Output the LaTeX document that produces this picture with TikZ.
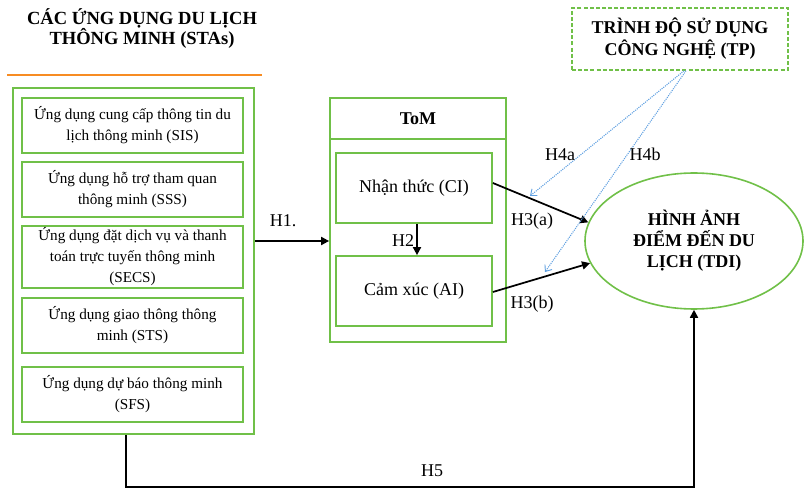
\documentclass[tikz,border=0pt]{standalone}
\usepackage{fontspec}
\setmainfont{Liberation Serif}
\usetikzlibrary{arrows.meta,shapes.geometric}
\definecolor{boxgreen}{RGB}{112,192,72}
\definecolor{lineorange}{RGB}{247,140,35}
\definecolor{linkblue}{RGB}{95,160,225}

\begin{document}
\begin{tikzpicture}[x=0.75pt,y=-0.75pt,
  appbox/.style={draw=boxgreen,line width=1.3pt,minimum width=165.75pt,
    minimum height=41.25pt,inner sep=0pt,align=center,
    font=\fontsize{11.4}{15.75}\selectfont},
  framebox/.style={draw=boxgreen,line width=1.5pt,inner sep=0pt},
  constructbox/.style={draw=boxgreen,line width=1.3pt,minimum width=117pt,
    minimum height=52.5pt,inner sep=0pt,font=\fontsize{13.5}{16}\selectfont},
  heading/.style={align=center,inner sep=0pt,font=\bfseries\fontsize{13.9}{15}\selectfont},
  lbl/.style={inner sep=0pt,anchor=base,font=\fontsize{13.5}{16}\selectfont},
  arr/.style={line width=1.3pt,-{Triangle[length=6pt,width=6pt]}},
  modarr/.style={draw=linkblue,line width=0.8pt,dash pattern=on 0.8pt off 0.8pt,
    -{Straight Barb[length=4pt,width=6.5pt,line width=0.7pt]}}]
\useasboundingbox (0,0) rectangle (806,488);

% STAs heading with orange rule
\node[heading] (stahead) at (142,29) {CÁC ỨNG DỤNG DU LỊCH\\THÔNG MINH (STAs)};
\draw[lineorange,line width=1.6pt] (7,75) coordinate (rulel) -- (262,75) coordinate (ruler);

% STAs group with its five applications
\node[framebox,minimum width=180.75pt,minimum height=259.5pt] (stas) at (133.5,261) {};
\node[appbox] (sis) at (132.5,125.5) {Ứng dụng cung cấp thông tin du\\lịch thông minh (SIS)};
\node[appbox] (sss) at (132.5,189.5) {Ứng dụng hỗ trợ tham quan\\thông minh (SSS)};
\node[appbox,minimum height=46.5pt] (secs) at (132.5,257) {Ứng dụng đặt dịch vụ và thanh\\toán trực tuyến thông minh\\(SECS)};
\node[appbox] (sts) at (132.5,325.5) {Ứng dụng giao thông thông\\minh (STS)};
\node[appbox] (sfs) at (132.5,394.5) {Ứng dụng dự báo thông minh\\(SFS)};

% ToM group
\node[draw=boxgreen,line width=1.3pt,minimum width=132pt,minimum height=183pt,inner sep=0pt] (tom) at (418,220) {};
\draw[boxgreen,line width=1.3pt] (tom.west |- 0,139) coordinate (toml) -- (tom.east |- 0,139) coordinate (tomr);
\node[heading,font=\bfseries\fontsize{13.5}{16}\selectfont] (tomtitle) at (418,119) {ToM};
\node[constructbox] (ci) at (414,188) {Nhận thức (CI)};
\node[constructbox] (ai) at (414,291) {Cảm xúc (AI)};

% Destination image
\node[ellipse,draw=boxgreen,line width=1.2pt,minimum width=163.5pt,minimum height=102pt,
  inner sep=0pt,align=center,font=\bfseries\fontsize{13.5}{15.75}\selectfont] (tdi) at (694,241)
  {HÌNH ẢNH\\ĐIỂM ĐẾN DU\\LỊCH (TDI)};

% Technology proficiency (moderator)
\node[draw=boxgreen,line width=1.2pt,dash pattern=on 3pt off 1.6pt,minimum width=162pt,
  minimum height=46.5pt,inner sep=0pt,align=center,
  font=\bfseries\fontsize{13.5}{16.5}\selectfont] (tp) at (680,39)
  {TRÌNH ĐỘ SỬ DỤNG\\CÔNG NGHỆ (TP)};

% Hypothesised paths
\draw[arr] ([yshift=15pt]stas.east) -- ([yshift=15pt]stas.east -| tom.west);
\node[lbl] (h1) at (283,227) {H1.};
\draw[arr] ([xshift=2.25pt]ci.south) -- ([xshift=2.25pt]ai.north);
\node[lbl] (h2) at (403,247) {H2};
\draw[arr] ([yshift=3.75pt]ci.east) -- (tdi.170);
\node[lbl] (h3a) at (532,226) {H3(a)};
\draw[arr] ([yshift=-0.75pt]ai.east) -- (tdi.192);
\node[lbl] (h3b) at (532,308) {H3(b)};

\coordinate (h4aend) at (530,196);
\coordinate (h4bend) at (545,272);
\draw[modarr] ([xshift=3pt]tp.south) -- (h4aend);
\draw[modarr] ([xshift=4.5pt]tp.south) -- (h4bend);
\node[lbl] (h4a) at (560,161) {H4a};
\node[lbl] (h4b) at (645,161) {H4b};

\draw[arr] ([xshift=-5.6pt]stas.south) -- ++(0,52) coordinate (h5corner) -| (tdi.south);
\node[lbl] (h5) at (432,476) {H5};
\end{tikzpicture}
\end{document}
